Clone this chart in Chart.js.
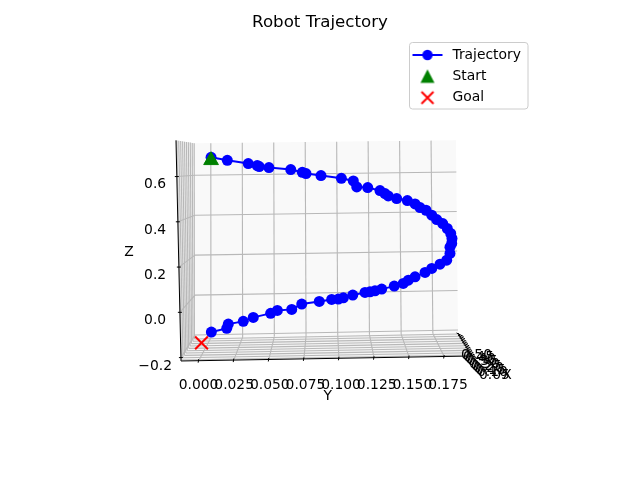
<!DOCTYPE html>
<html>
<head>
<meta charset="utf-8">
<script src="https://cdn.jsdelivr.net/npm/chart.js@4/dist/chart.umd.min.js"></script>
<style>
body { margin: 0; background: #fff; }
canvas { display: block; }
</style>
</head>
<body>
<canvas id="myChart" width="640" height="480"></canvas>
<script>
// valeurs
const trajY = [0.0088, 0.0202, 0.0349, 0.0412, 0.0426, 0.0494, 0.0647, 0.0728, 0.0754, 0.0859,
    0.1002, 0.1086, 0.1110, 0.1187, 0.1273, 0.1308, 0.1331, 0.1390, 0.1465, 0.1519,
    0.1554, 0.1596, 0.1636, 0.1671, 0.1713, 0.1745, 0.1769, 0.1778, 0.1776, 0.1764,
    0.1764, 0.1741, 0.1694, 0.1636, 0.1589, 0.1519, 0.1472, 0.1436, 0.1373, 0.1285,
    0.1238, 0.1203, 0.1168, 0.1082, 0.1016, 0.0981, 0.0934, 0.0847, 0.0724, 0.0654,
    0.0553, 0.0506, 0.0384, 0.0314, 0.0209, 0.0198, 0.0090];
const trajZ = [0.7113, 0.6981, 0.6836, 0.6747, 0.6703, 0.6659, 0.6571, 0.6452, 0.6395, 0.6307,
    0.6188, 0.6069, 0.5804, 0.5778, 0.5646, 0.5513, 0.5408, 0.5293, 0.5205, 0.5055,
    0.4896, 0.4777, 0.4557, 0.4368, 0.4191, 0.3971, 0.3751, 0.3530, 0.3310, 0.3147,
    0.2869, 0.2574, 0.2398, 0.2208, 0.2032, 0.1838, 0.1692, 0.1547, 0.1428, 0.1296,
    0.1221, 0.1177, 0.1150, 0.1031, 0.0912, 0.0855, 0.0842, 0.0754, 0.0635, 0.0401,
    0.0357, 0.0225, 0.0048, -0.0128, -0.0247, -0.0436, -0.0599];
const startY = [0.0088];
const startZ = [0.6980];
const goalY = [0.0021];
const goalZ = [-0.1080];

const yTicks = [0, 0.025, 0.05, 0.075, 0.1, 0.125, 0.15, 0.175];
const zTicks = [-0.2, 0, 0.2, 0.4, 0.6];
const xTicks = [0.50, 0.45, 0.40, 0.35, 0.30, 0.25, 0.20, 0.15, 0.10, 0.05];

// limites de la boite 3D
const xLim = [0.03, 0.52];
const yLim = [-0.0126, 0.1948];
const zLim = [-0.215, 0.76];

// coins de la boite, en unites des axes : [avant/arriere][y bas/haut][z bas/haut]
const frame = [
    [[[-0.0123, -0.1877], [-0.0158, 0.7863]], [[0.1918, -0.1657], [0.1939, 0.8039]]],
    [[[-0.0025, -0.0864], [-0.0025, 0.7731]], [[0.1820, -0.0643], [0.1806, 0.7863]]]
];

function mix(a, b, t) {
    return a + (b - a) * t;
}

// projection 3D -> valeurs des axes du graphique
function project(x, y, z) {
    const tx = (x - xLim[0]) / (xLim[1] - xLim[0]);
    const ty = (y - yLim[0]) / (yLim[1] - yLim[0]);
    const tz = (z - zLim[0]) / (zLim[1] - zLim[0]);
    const out = [0, 1].map(function (k) {
        const f = frame;
        const c0 = mix(mix(f[0][0][0][k], f[0][0][1][k], tz), mix(f[0][1][0][k], f[0][1][1][k], tz), ty);
        const c1 = mix(mix(f[1][0][0][k], f[1][0][1][k], tz), mix(f[1][1][0][k], f[1][1][1][k], tz), ty);
        return mix(c0, c1, tx);
    });
    return out;
}

const box3d = {
    id: 'box3d',
    beforeDatasetsDraw(chart) {
        const ctx = chart.ctx;
        const sx = chart.scales.x;
        const sy = chart.scales.y;
        const px = function (x, y, z) {
            const p = project(x, y, z);
            return [sx.getPixelForValue(p[0]), sy.getPixelForValue(p[1])];
        };
        const poly = function (pts, color) {
            ctx.beginPath();
            pts.forEach(function (p, i) {
                const q = px(p[0], p[1], p[2]);
                if (i === 0) ctx.moveTo(q[0], q[1]); else ctx.lineTo(q[0], q[1]);
            });
            ctx.closePath();
            ctx.fillStyle = color;
            ctx.fill();
        };
        const seg = function (a, b, color, width) {
            const p = px(a[0], a[1], a[2]);
            const q = px(b[0], b[1], b[2]);
            ctx.beginPath();
            ctx.moveTo(p[0], p[1]);
            ctx.lineTo(q[0], q[1]);
            ctx.strokeStyle = color;
            ctx.lineWidth = width;
            ctx.stroke();
        };
        const x0 = xLim[0], x1 = xLim[1], y0 = yLim[0], y1 = yLim[1], z0 = zLim[0], z1 = zLim[1];
        ctx.save();

        // panneaux
        poly([[x1, y0, z0], [x1, y1, z0], [x1, y1, z1], [x1, y0, z1]], '#f9f9f9');
        poly([[x0, y0, z0], [x1, y0, z0], [x1, y0, z1], [x0, y0, z1]], '#f2f2f2');
        poly([[x0, y0, z0], [x0, y1, z0], [x1, y1, z0], [x1, y0, z0]], '#f5f5f5');

        // grilles
        const gridColor = '#b8b8b8';
        yTicks.forEach(function (y) {
            seg([x1, y, z0], [x1, y, z1], gridColor, 1.1);
            seg([x0, y, z0], [x1, y, z0], gridColor, 1.1);
        });
        zTicks.forEach(function (z) {
            seg([x1, y0, z], [x1, y1, z], gridColor, 1.1);
            seg([x0, y0, z], [x1, y0, z], gridColor, 1.1);
        });
        xTicks.forEach(function (x) {
            seg([x, y0, z0], [x, y1, z0], gridColor, 1.1);
            seg([x, y0, z0], [x, y0, z1], gridColor, 1.1);
        });

        // axes noirs
        seg([x0, y0, z0], [x0, y0, z1], '#000', 1);
        seg([x0, y0, z0], [x0, y1, z0], '#000', 1);
        seg([x0, y1, z0], [x1, y1, z0], '#000', 1);

        // graduations
        ctx.lineWidth = 1;
        ctx.strokeStyle = '#000';
        ctx.beginPath();
        xTicks.forEach(function (x) {
            const p = px(x, y1, z0);
            ctx.moveTo(p[0] - 2, p[1] - 1);
            ctx.lineTo(p[0] + 5, p[1] + 2.5);
        });
        yTicks.forEach(function (y) {
            const p = px(x0, y, z0);
            ctx.moveTo(p[0], p[1] - 1.5);
            ctx.lineTo(p[0] - 0.5, p[1] + 2);
        });
        zTicks.forEach(function (z) {
            const p = px(x0, y0, z);
            ctx.moveTo(p[0] - 2, p[1]);
            ctx.lineTo(p[0] + 2, p[1]);
        });
        ctx.stroke();

        // etiquettes de l'axe X, empilees comme sur l'image
        ctx.font = '13.89px "DejaVu Sans"';
        ctx.fillStyle = '#000';
        ctx.textAlign = 'center';
        ctx.textBaseline = 'middle';
        xTicks.forEach(function (x) {
            const p = px(x, y1, z0);
            const f = (0.5 - x) / 0.45;
            ctx.fillText(x.toFixed(2), p[0] + 18 + 5 * f, p[1] + 21 - f);
        });
        const e = px(x0, y1, z0);
        ctx.fillText('X', e[0] + 35, e[1] + 19);
        // titres Y et Z
        ctx.fillText('Y', sx.getPixelForValue(0.0907), sy.bottom + 30);
        ctx.fillText('Z', sx.left - 46, sy.getPixelForValue(0.29));
        ctx.restore();
    }
};

// position et cadre de la legende
const legendBox = {
    id: 'legendBox',
    afterLayout(chart) {
        const l = chart.legend;
        l.left = 402;
        l.right = 528;
        l.top = 40.5;
        l.bottom = 300;
    },
    beforeDraw(chart) {
        const ctx = chart.ctx;
        ctx.save();
        ctx.beginPath();
        ctx.roundRect(409.5, 42.5, 118.5, 66.5, 3);
        ctx.fillStyle = 'rgba(255,255,255,0.8)';
        ctx.fill();
        ctx.strokeStyle = '#cccccc';
        ctx.lineWidth = 1;
        ctx.stroke();
        ctx.restore();
    }
};

function makeIcon(draw) {
    const c = document.createElement('canvas');
    c.width = 36;
    c.height = 16;
    const g = c.getContext('2d');
    draw(g);
    return c;
}

const iconTrajectory = makeIcon(function (g) {
    g.strokeStyle = '#0000ff';
    g.lineWidth = 2;
    g.beginPath();
    g.moveTo(3, 8);
    g.lineTo(33, 8);
    g.stroke();
    g.fillStyle = '#0000ff';
    g.beginPath();
    g.arc(18, 8, 5.2, 0, Math.PI * 2);
    g.fill();
});
const iconStart = makeIcon(function (g) {
    g.fillStyle = '#008000';
    g.beginPath();
    g.moveTo(18, 1);
    g.lineTo(25, 14.5);
    g.lineTo(11, 14.5);
    g.closePath();
    g.fill();
});
const iconGoal = makeIcon(function (g) {
    g.strokeStyle = '#ff0000';
    g.lineWidth = 2;
    g.beginPath();
    g.moveTo(12, 2);
    g.lineTo(24, 14);
    g.moveTo(24, 2);
    g.lineTo(12, 14);
    g.stroke();
});

const legendIcons = [iconTrajectory, iconStart, iconGoal];

function toPoints(xs, ys) {
    return xs.map(function (v, i) {
        return { x: v, y: ys[i] };
    });
}

const tickFont = { family: '"DejaVu Sans"', size: 13.89 };

const myChart = new Chart(document.getElementById('myChart').getContext('2d'), {
    type: 'scatter',
    data: {
        datasets: [{
            label: 'Trajectory',
            data: toPoints(trajY, trajZ),
            showLine: true,
            borderColor: '#0000ff',
            backgroundColor: '#0000ff',
            borderWidth: 2,
            pointRadius: 5.5,
            pointBorderWidth: 0,
            order: 3
        }, {
            label: 'Start',
            data: toPoints(startY, startZ),
            pointStyle: 'triangle',
            borderColor: '#008000',
            backgroundColor: '#008000',
            pointRadius: 8.5,
            order: 2
        }, {
            label: 'Goal',
            data: toPoints(goalY, goalZ),
            pointStyle: 'crossRot',
            borderColor: '#ff0000',
            backgroundColor: '#ff0000',
            pointRadius: 9,
            pointBorderWidth: 2,
            order: 1
        }]
    },
    options: {
        responsive: false,
        animation: false,
        layout: {
            padding: { left: 130, right: 130, top: 0, bottom: 74 }
        },
        plugins: {
            title: {
                display: true,
                text: 'Robot Trajectory',
                color: '#000',
                font: { family: '"DejaVu Sans"', size: 16.67, weight: 'normal' },
                padding: { top: 13, bottom: 6 }
            },
            tooltip: { enabled: false },
            legend: {
                position: 'chartArea',
                align: 'start',
                labels: {
                    usePointStyle: true,
                    pointStyleWidth: 36,
                    padding: 7.5,
                    color: '#000',
                    font: tickFont,
                    generateLabels: function (chart) {
                        return chart.data.datasets.map(function (d, i) {
                            return { text: d.label, pointStyle: legendIcons[i], datasetIndex: i, fontColor: '#000' };
                        });
                    }
                }
            }
        },
        scales: {
            x: {
                type: 'linear',
                min: -0.0165,
                max: 0.2185,
                afterBuildTicks: function (axis) {
                    axis.ticks = yTicks.map(function (v) { return { value: v }; });
                },
                afterFit: function (axis) {
                    axis.height = 40;
                },
                grid: { display: false },
                border: { display: false },
                ticks: {
                    autoSkip: false,
                    maxRotation: 0,
                    padding: 3,
                    color: '#000',
                    font: tickFont,
                    callback: function (v) { return v.toFixed(3); }
                }
            },
            // echelle des donnees, sans affichage
            y: {
                type: 'linear',
                display: false,
                min: -0.2098,
                max: 1.2336
            },
            // etiquettes Z : un peu sous les graduations, comme sur l'image
            zLabels: {
                type: 'linear',
                axis: 'y',
                position: 'left',
                min: -0.2001,
                max: 1.2433,
                afterBuildTicks: function (axis) {
                    axis.ticks = zTicks.map(function (v) { return { value: v }; });
                },
                afterFit: function (axis) {
                    axis.width = 45;
                },
                grid: { display: false },
                border: { display: false },
                ticks: {
                    crossAlign: 'center',
                    padding: -5,
                    color: '#000',
                    font: tickFont,
                    callback: function (v) { return v.toFixed(1).replace('-', '\u2212'); }
                }
            }
        }
    },
    plugins: [box3d, legendBox]
});
</script>
</body>
</html>
